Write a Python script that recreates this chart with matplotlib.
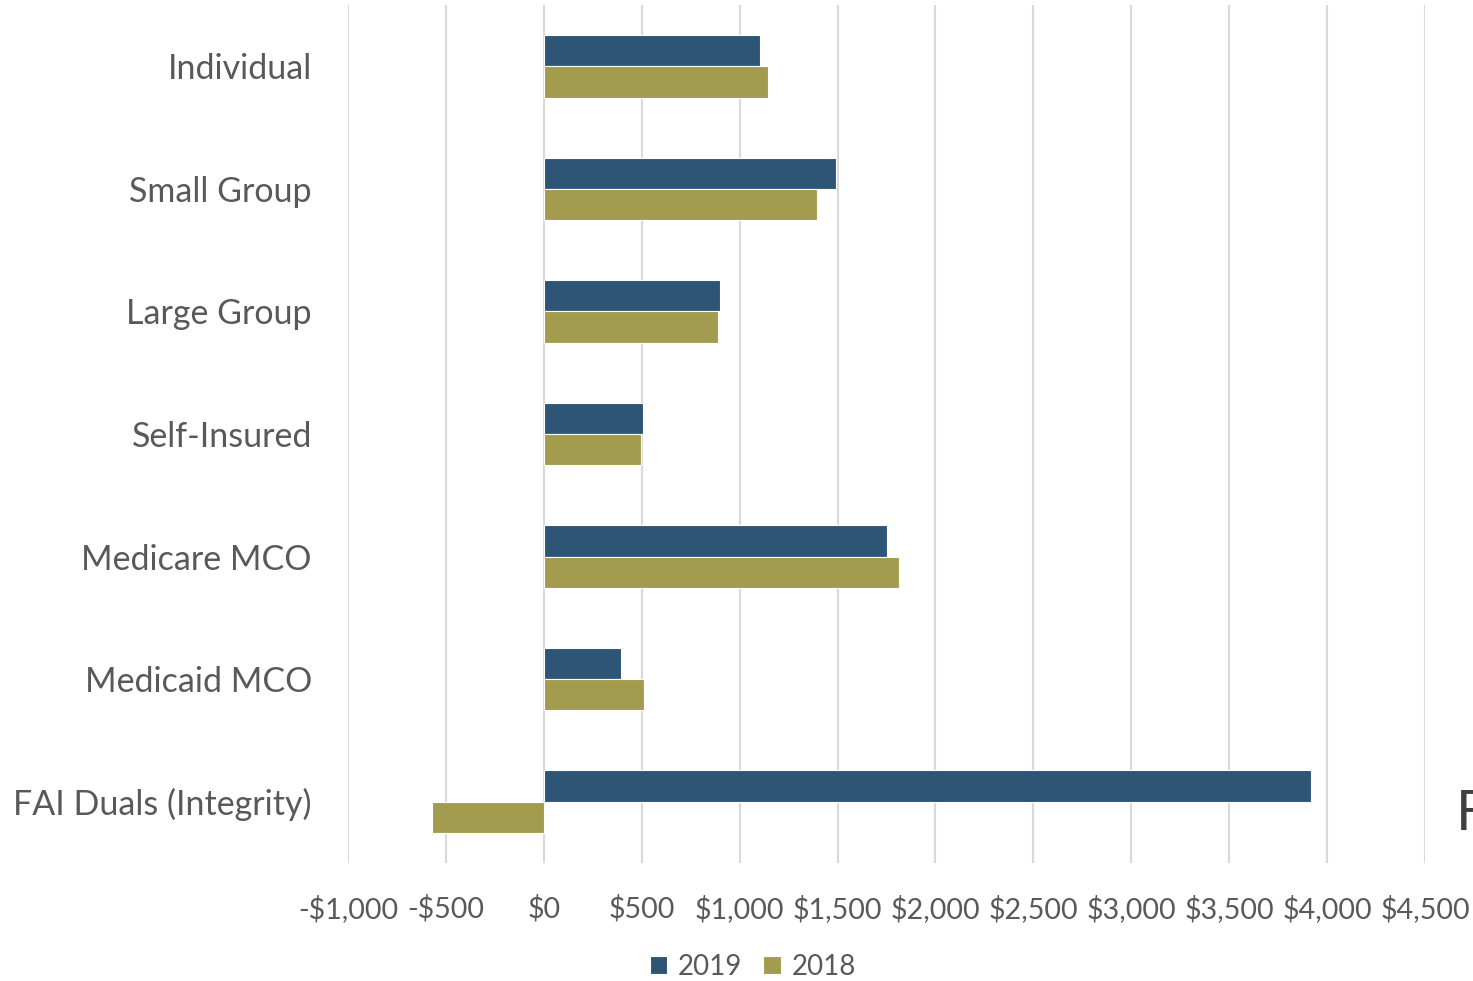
import matplotlib
matplotlib.use("Agg")
import matplotlib.pyplot as plt
import numpy as np
from matplotlib.ticker import FuncFormatter, MultipleLocator

categories = ["Individual", "Small Group", "Large Group", "Self-Insured",
              "Medicare MCO", "Medicaid MCO", "FAI Duals (Integrity)"]
values_2019 = [1105, 1490, 900, 506, 1752, 393, 3917]
values_2018 = [1145, 1395, 890, 495, 1813, 511, -572]
series_names = ["2019", "2018"]
colors = ["#2E5575", "#A39B4D"]

plt.rcParams['font.family'] = ['Lato', 'DejaVu Sans']
text_color = "#595959"

fig = plt.figure(figsize=(14.73, 9.81), dpi=100)
ax = fig.add_axes([348/1473, 1 - 863/981, (1425-348)/1473, (863-5)/981])

y = np.arange(len(categories))
h = 0.255
ax.barh(y - h/2, values_2019, height=h, color=colors[0], edgecolor="white", linewidth=0.8, label=series_names[0], zorder=3)
ax.barh(y + h/2, values_2018, height=h, color=colors[1], edgecolor="white", linewidth=0.8, label=series_names[1], zorder=3)

ax.set_xlim(-1000, 4500)
ax.set_ylim(len(categories) - 0.5, -0.5)
ax.xaxis.set_major_locator(MultipleLocator(500))

def fmt(v, pos):
    v = int(round(v))
    if v < 0:
        return "-${:,}".format(-v)
    return "${:,}".format(v)
ax.xaxis.set_major_formatter(FuncFormatter(fmt))

ax.grid(axis="x", color="#D9D9D9", linewidth=1.5, zorder=0)
ax.set_yticks(y)
ax.set_yticklabels(categories)
for s in ax.spines.values():
    s.set_visible(False)
ax.tick_params(axis="both", length=0, colors=text_color)
ax.tick_params(axis="y", labelsize=24.5, pad=26)
ax.tick_params(axis="x", labelsize=20.7, pad=23)

leg = fig.legend(loc="center", bbox_to_anchor=(753/1473, 1 - 967/981), ncol=2, frameon=False,
                 fontsize=20, handlelength=0.62, handleheight=0.62, handletextpad=0.4,
                 columnspacing=0.75, labelcolor=text_color)

fig.text(1456/1473, 1 - 815/981, "F", fontsize=40, color="#404040", ha="left", va="center")

fig.savefig("out.png", dpi=100)
